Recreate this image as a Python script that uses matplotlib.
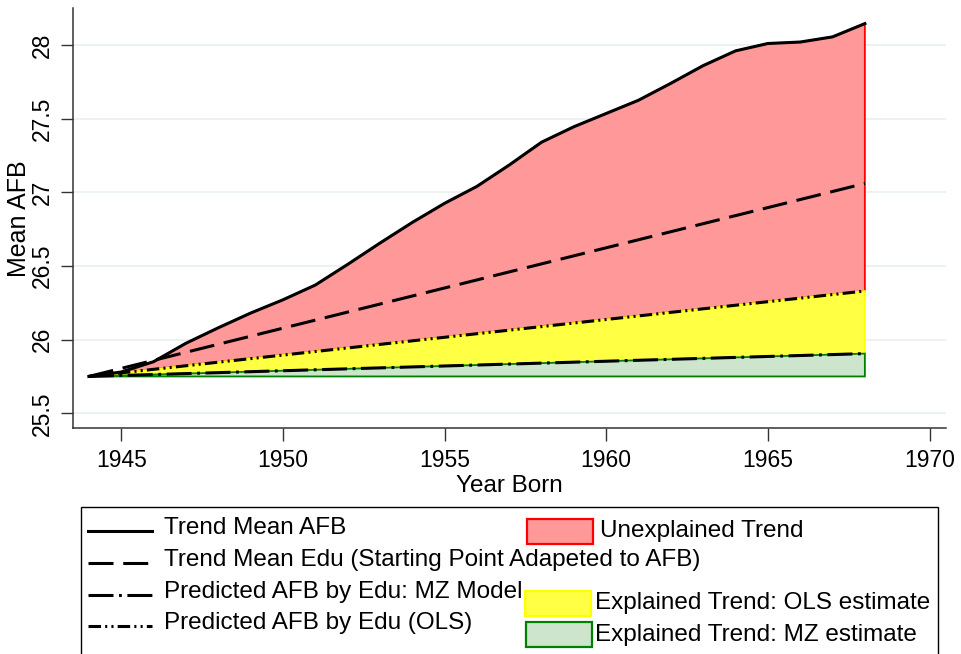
"""Decomposition of the trend in mean age at first birth (AFB) by year born."""
import numpy as np
import matplotlib
matplotlib.use("Agg")
import matplotlib.pyplot as plt
from matplotlib.lines import Line2D
from matplotlib.patches import Rectangle

plt.rcParams["font.family"] = ["Liberation Sans", "DejaVu Sans"]
plt.rcParams["lines.scale_dashes"] = False

# ---------------- data ----------------
years = [1944, 1945, 1946, 1947, 1948, 1949, 1950, 1951, 1952, 1953, 1954, 1955,
         1956, 1957, 1958, 1959, 1960, 1961, 1962, 1963, 1964, 1965, 1966, 1967, 1968]
afb_trend = [25.75, 25.78, 25.85, 25.975, 26.08, 26.18, 26.27, 26.37, 26.51, 26.655,
             26.795, 26.925, 27.04, 27.185, 27.34, 27.445, 27.535, 27.625, 27.74,
             27.86, 27.96, 28.01, 28.02, 28.055, 28.145]

line_years = [1944, 1968]
edu_trend = [25.75, 27.06]      # Trend Mean Edu (start adapted to AFB)
pred_ols = [25.75, 26.33]       # Predicted AFB by Edu (OLS)
pred_mz = [25.75, 25.905]       # Predicted AFB by Edu: MZ model
base_level = 25.75

x_ticks = [1945, 1950, 1955, 1960, 1965, 1970]
y_ticks = [25.5, 26, 26.5, 27, 27.5, 28]
y_ticklabels = ["25.5", "26", "26.5", "27", "27.5", "28"]

# ---------------- styles ----------------
W, H = 962, 654
PINK, PINK_EDGE = "#ff9999", "#ff0000"
YELLOW, YELLOW_EDGE = "#ffff44", "#ffff00"
GREEN, GREEN_EDGE = "#cce5cc", "#008000"
DASH_EDU = (0, (18, 7))
DASH_MZ = (0, (18, 4, 2, 4))
DASH_OLS = (0, (9, 3, 1.5, 3, 1.5, 3))
LW = 2.2


def fx(px):
    return px / W


def fy(py):
    return 1 - py / H


fig = plt.figure(figsize=(W / 100, H / 100), dpi=100)
ax = fig.add_axes([fx(72.7), fy(428.3), (945.7 - 72.7) / W, (428.3 - 8.3) / H])

# grid
for yv in y_ticks:
    ax.axhline(yv, color="#eaf1f3", lw=1.3, zorder=0)

# areas
xs_line = np.array(line_years)
ax.fill(np.r_[years, xs_line[::-1]], np.r_[afb_trend, np.array(pred_ols)[::-1]],
        facecolor=PINK, edgecolor=PINK_EDGE, lw=1.3, zorder=1)
ax.fill(np.r_[xs_line, xs_line[::-1]], np.r_[pred_mz, np.array(pred_ols)[::-1]],
        facecolor=YELLOW, edgecolor=YELLOW_EDGE, lw=1.3, zorder=1)
ax.fill(np.r_[xs_line, xs_line[::-1]], np.r_[pred_mz, [base_level, base_level]],
        facecolor=GREEN, edgecolor=GREEN_EDGE, lw=1.3, zorder=1)

# lines
ax.plot(years, afb_trend, color="black", lw=LW, zorder=3)
ax.plot(line_years, edu_trend, color="black", lw=LW, linestyle=DASH_EDU, zorder=3)
ax.plot(line_years, pred_mz, color="black", lw=LW, linestyle=DASH_MZ, zorder=3)
ax.plot(line_years, pred_ols, color="black", lw=LW, linestyle=DASH_OLS, zorder=3)

ax.set_xlim(1943.5, 1970.5)
ax.set_ylim(25.398, 28.249)
ax.set_xticks(x_ticks)
ax.set_yticks(y_ticks)
ax.set_yticklabels(y_ticklabels, rotation=90, va="center")
ax.tick_params(axis="both", length=9, width=1, color="#333333", labelsize=16.5)
ax.tick_params(axis="x", pad=6)
ax.tick_params(axis="y", pad=4.5)
for side in ("top", "right"):
    ax.spines[side].set_visible(False)
for side in ("left", "bottom"):
    ax.spines[side].set_color("#333333")
    ax.spines[side].set_linewidth(1.1)

ax.set_xlabel("Year Born", fontsize=17.5, labelpad=2)
ax.set_ylabel("Mean AFB", fontsize=18)
ax.yaxis.set_label_coords((31 - 72.7) / (945.7 - 72.7), 0.5)

# ---------------- legend (drawn by hand, Stata layout) ----------------
fig.patches.append(Rectangle((fx(81), fy(660)), (937.7 - 81) / W, (660 - 507.3) / H,
                             transform=fig.transFigure, facecolor="white",
                             edgecolor="black", lw=1.0))

line_keys = [
    ("Trend Mean AFB", "-", 531),
    ("Trend Mean Edu (Starting Point Adapeted to AFB)", DASH_EDU, 563),
    ("Predicted AFB by Edu: MZ Model", DASH_MZ, 595),
    ("Predicted AFB by Edu (OLS)", DASH_OLS, 626),
]
for label, ls, yy in line_keys:
    fig.lines.append(Line2D([fx(88), fx(152)], [fy(yy), fy(yy)], transform=fig.transFigure,
                            color="black", lw=LW, linestyle=ls))
    fig.text(fx(164), fy(yy - 3), label, fontsize=17.5, va="center", ha="left")

patch_keys = [
    ("Unexplained Trend", PINK, PINK_EDGE, 527, 519, 600),
    ("Explained Trend: OLS estimate", YELLOW, YELLOW_EDGE, 524.5, 591, 595),
    ("Explained Trend: MZ estimate", GREEN, GREEN_EDGE, 526, 622, 595),
]
for label, fc, ec, x0, y0, tx in patch_keys:
    fig.patches.append(Rectangle((fx(x0), fy(y0 + 25)), 66 / W, 25 / H,
                                 transform=fig.transFigure, facecolor=fc,
                                 edgecolor=ec, lw=1.6))
    fig.text(fx(tx), fy(y0 + 12.5), label, fontsize=17.5, va="center", ha="left")

fig.savefig("out.png", dpi=100)
